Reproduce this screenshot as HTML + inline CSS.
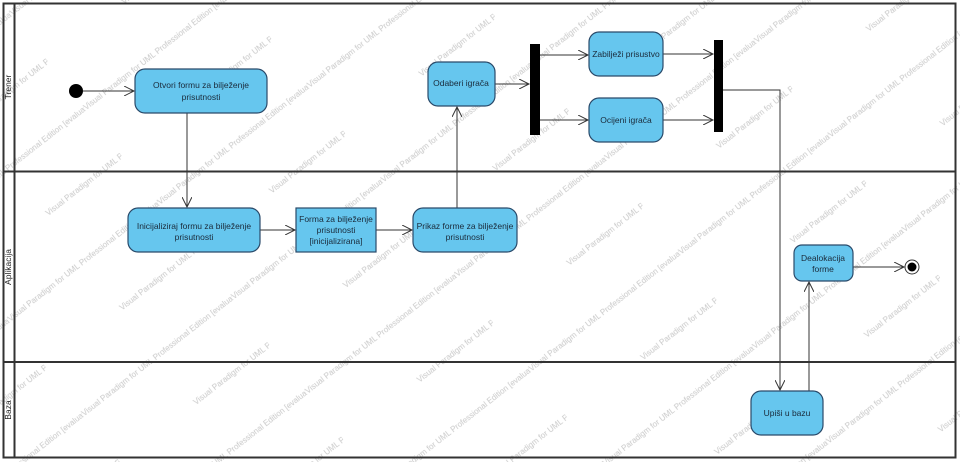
<!DOCTYPE html>
<html><head><meta charset="utf-8"><style>
html,body{margin:0;padding:0;background:#fff;}
svg{display:block;font-family:"Liberation Sans",sans-serif;}
</style></head><body>
<svg width="960" height="462" viewBox="0 0 960 462" xmlns="http://www.w3.org/2000/svg">
<defs>
<marker id="a" markerWidth="12" markerHeight="10" refX="10" refY="5" orient="auto" markerUnits="userSpaceOnUse">
<path d="M0,0 L10,5 L0,10" fill="none" stroke="#333" stroke-width="1"/>
</marker>
<pattern id="wm" width="190" height="120" patternUnits="userSpaceOnUse" patternTransform="rotate(-38)">
<text x="0" y="20" font-size="8" fill="#c8c8c8">Visual Paradigm for UML Professional Edition [evaluation copy]</text>
<text x="95" y="80" font-size="8" fill="#c8c8c8">Visual Paradigm for UML Professional Edition [evaluation copy]</text>
</pattern>
</defs>
<rect x="0" y="0" width="960" height="462" fill="#fff"/>
<rect x="0" y="0" width="960" height="462" fill="url(#wm)"/>
<rect x="3.5" y="3.5" width="952" height="454" fill="none" stroke="#333" stroke-width="2"/>
<line x1="14.5" y1="3" x2="14.5" y2="458" stroke="#333" stroke-width="2"/>
<line x1="3" y1="171.5" x2="956" y2="171.5" stroke="#333" stroke-width="2"/>
<line x1="3" y1="362" x2="956" y2="362" stroke="#333" stroke-width="2"/>
<g font-size="8.5" fill="#222" text-anchor="middle">
<text transform="translate(11,87) rotate(-90)">Trener</text>
<text transform="translate(11,267) rotate(-90)">Aplikacija</text>
<text transform="translate(11,410) rotate(-90)">Baza</text>
</g>
<g stroke="#333" stroke-width="1" fill="none">
<line x1="83" y1="91" x2="134" y2="91" marker-end="url(#a)"/>
<line x1="187" y1="113" x2="187" y2="207" marker-end="url(#a)"/>
<line x1="260" y1="230" x2="295" y2="230" marker-end="url(#a)"/>
<line x1="376" y1="230" x2="412" y2="230" marker-end="url(#a)"/>
<line x1="457" y1="208" x2="457" y2="107" marker-end="url(#a)"/>
<line x1="495" y1="84" x2="529" y2="84" marker-end="url(#a)"/>
<line x1="540" y1="55" x2="588" y2="55" marker-end="url(#a)"/>
<line x1="540" y1="120" x2="588" y2="120" marker-end="url(#a)"/>
<line x1="663" y1="54" x2="713" y2="54" marker-end="url(#a)"/>
<line x1="663" y1="120" x2="713" y2="120" marker-end="url(#a)"/>
<polyline points="723,90 780,90 780,390" marker-end="url(#a)"/>
<line x1="809" y1="391" x2="809" y2="282" marker-end="url(#a)"/>
<line x1="853" y1="267" x2="904" y2="267" marker-end="url(#a)"/>
</g>
<circle cx="76" cy="91" r="7" fill="#000"/>
<g fill="#66c6ee" stroke="#2a4a6a" stroke-width="1.2">
<rect x="135" y="69" width="132" height="44" rx="10"/>
<rect x="128" y="208" width="132" height="44" rx="10"/>
<rect x="296" y="208" width="80" height="44"/>
<rect x="413" y="208" width="104" height="44" rx="10"/>
<rect x="428" y="62" width="67" height="44" rx="10"/>
<rect x="589" y="32" width="74" height="44" rx="10"/>
<rect x="589" y="98" width="74" height="44" rx="10"/>
<rect x="751" y="391" width="72" height="44" rx="10"/>
<rect x="794" y="245" width="59" height="36" rx="8"/>
</g>
<rect x="530" y="44" width="10" height="91" fill="#000"/>
<rect x="714" y="40" width="9" height="92" fill="#000"/>
<circle cx="912" cy="267" r="7" fill="#fff" stroke="#333" stroke-width="1"/>
<circle cx="912" cy="267" r="4.5" fill="#000"/>
<g font-size="8.5" fill="#1a2a3a" text-anchor="middle">
<text x="201" y="88">Otvori formu za bilježenje</text>
<text x="201" y="100">prisutnosti</text>
<text x="194" y="229">Inicijaliziraj formu za bilježenje</text>
<text x="194" y="240">prisutnosti</text>
<text x="336" y="222">Forma za bilježenje</text>
<text x="336" y="233">prisutnosti</text>
<text x="336" y="244">[inicijalizirana]</text>
<text x="465" y="229">Prikaz forme za bilježenje</text>
<text x="465" y="240">prisutnosti</text>
<text x="461" y="86">Odaberi igrača</text>
<text x="626" y="57">Zabilježi prisustvo</text>
<text x="626" y="123">Ocijeni igrača</text>
<text x="787" y="416">Upiši u bazu</text>
<text x="823" y="261">Dealokacija</text>
<text x="823" y="272">forme</text>
</g>
</svg>
</body></html>
